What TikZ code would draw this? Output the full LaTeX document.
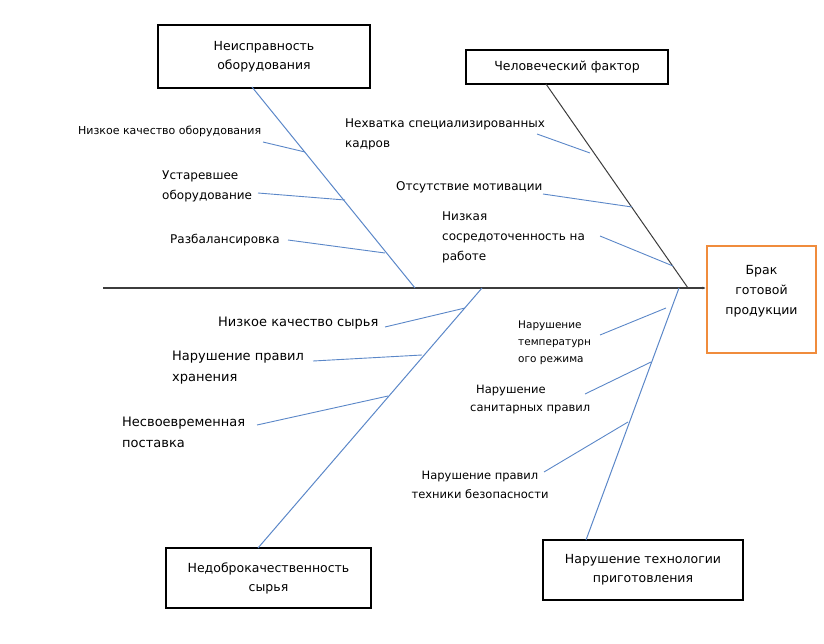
\documentclass[tikz,border=0pt]{standalone}
\usepackage{fontspec}
\setmainfont{DejaVu Sans}
\usepackage{xcolor}
\usetikzlibrary{arrows.meta, positioning}

\definecolor{boneblue}{RGB}{91,135,200}
\definecolor{spinegray}{RGB}{60,60,60}
\definecolor{effectorange}{RGB}{240,140,60}

\begin{document}
\begin{tikzpicture}[
    x=1pt, y=-1pt,
    cause/.style={draw, line width=2.2pt, align=center, inner sep=0pt, font=\fontsize{12.5}{19}\selectfont},
    effect/.style={draw=effectorange, line width=2.6pt, align=center, inner sep=0pt, minimum width=109pt, minimum height=107pt, font=\fontsize{12.5}{20}\selectfont},
    sub/.style={anchor=west, align=left, inner sep=0pt, font=\fontsize{12}{20}\selectfont},
    subbig/.style={sub, font=\fontsize{13}{21}\selectfont},
    subsmall/.style={sub, font=\fontsize{10.5}{17}\selectfont},
    spine/.style={-{Latex[length=3pt, width=3pt]}, spinegray, line width=1.1pt},
    bone/.style={boneblue, line width=1pt},
    blackbone/.style={spinegray, line width=1pt},
    twig/.style={boneblue, line width=0.9pt}
]
\useasboundingbox (0,0) rectangle (824,643);

% effect and main causes
\node[effect] (brak) at (761.5,299.5) {Брак\\готовой\\продукции\\\mbox{}};
\node[cause, minimum width=212pt, minimum height=63pt] (equip) at (264,56.5) {Неисправность\\оборудования};
\node[cause, minimum width=202pt, minimum height=34pt] (human) at (567,67) {Человеческий фактор};
\node[cause, minimum width=205pt, minimum height=60pt] (raw) at (268.5,578) {Недоброкачественность\\сырья};
\node[cause, minimum width=200pt, minimum height=60pt] (tech) at (643,570) {Нарушение технологии\\приготовления};

% spine
\coordinate (tail) at (103,288);
\draw[spine] (tail) -- (tail -| brak.west);

% bone ends on the spine
\coordinate (e1) at (415,288);
\coordinate (e2) at (688,288);
\coordinate (e3) at (482,288);
\coordinate (e4) at (679,288);
\coordinate (s1) at (252,87);
\coordinate (s2) at (546,84);
\coordinate (s3) at (258,548);
\coordinate (s4) at (586,540);

\draw[bone] (s1) -- (e1);
\draw[blackbone] (s2) -- (e2);
\draw[bone] (s3) -- (e3);
\draw[bone] (s4) -- (e4);

% equipment
\node[sub, font=\fontsize{11}{18}\selectfont] (q1) at (78,131) {Низкое качество оборудования};
\node[sub] (q2) at (162,186) {Устаревшее\\оборудование};
\node[sub] (q3) at (170,240) {Разбалансировка};
\coordinate (q1a) at (263,142); \coordinate (q1b) at (305,152);
\coordinate (q2a) at (258,193); \coordinate (q2b) at (345,200);
\coordinate (q3a) at (288,240); \coordinate (q3b) at (385,253);
\draw[twig] (q1a) -- (q1b);
\draw[twig] (q2a) -- (q2b);
\draw[twig] (q3a) -- (q3b);

% human factor
\node[sub] (h1) at (345,134.5) {Нехватка специализированных\\кадров};
\node[sub] (h2) at (396,187) {Отсутствие мотивации};
\node[sub] (h3) at (442,237) {Низкая\\сосредоточенность на\\работе};
\coordinate (h1a) at (537,134); \coordinate (h1b) at (590,153);
\coordinate (h2a) at (543,194); \coordinate (h2b) at (632,207);
\coordinate (h3a) at (600,236); \coordinate (h3b) at (673,266);
\draw[twig] (h1a) -- (h1b);
\draw[twig] (h2a) -- (h2b);
\draw[twig] (h3a) -- (h3b);

% raw materials
\node[subbig] (r1) at (218,323) {Низкое качество сырья};
\node[subbig] (r2) at (172,367.5) {Нарушение правил\\хранения};
\node[subbig] (r3) at (122,432) {Несвоевременная\\поставка};
\coordinate (r1a) at (385,327); \coordinate (r1b) at (465,308);
\coordinate (r2a) at (313,361); \coordinate (r2b) at (422,355);
\coordinate (r3a) at (257,425); \coordinate (r3b) at (388,396);
\draw[twig] (r1a) -- (r1b);
\draw[twig] (r2a) -- (r2b);
\draw[twig] (r3a) -- (r3b);

% technology
\node[subsmall] (t1) at (518,343) {Нарушение\\температурн\\ого режима};
\node[sub, font=\fontsize{11.5}{18}\selectfont] (t2) at (470,399) {\hspace*{6pt}Нарушение\\санитарных правил};
\node[sub, align=center, anchor=center, font=\fontsize{11.5}{19}\selectfont] (t3) at (480,484.5) {Нарушение правил\\техники безопасности};
\coordinate (t1a) at (600,335); \coordinate (t1b) at (666,308);
\coordinate (t2a) at (585,394); \coordinate (t2b) at (651,362);
\coordinate (t3a) at (544,472); \coordinate (t3b) at (628,422);
\draw[twig] (t1a) -- (t1b);
\draw[twig] (t2a) -- (t2b);
\draw[twig] (t3a) -- (t3b);

\end{tikzpicture}
\end{document}
